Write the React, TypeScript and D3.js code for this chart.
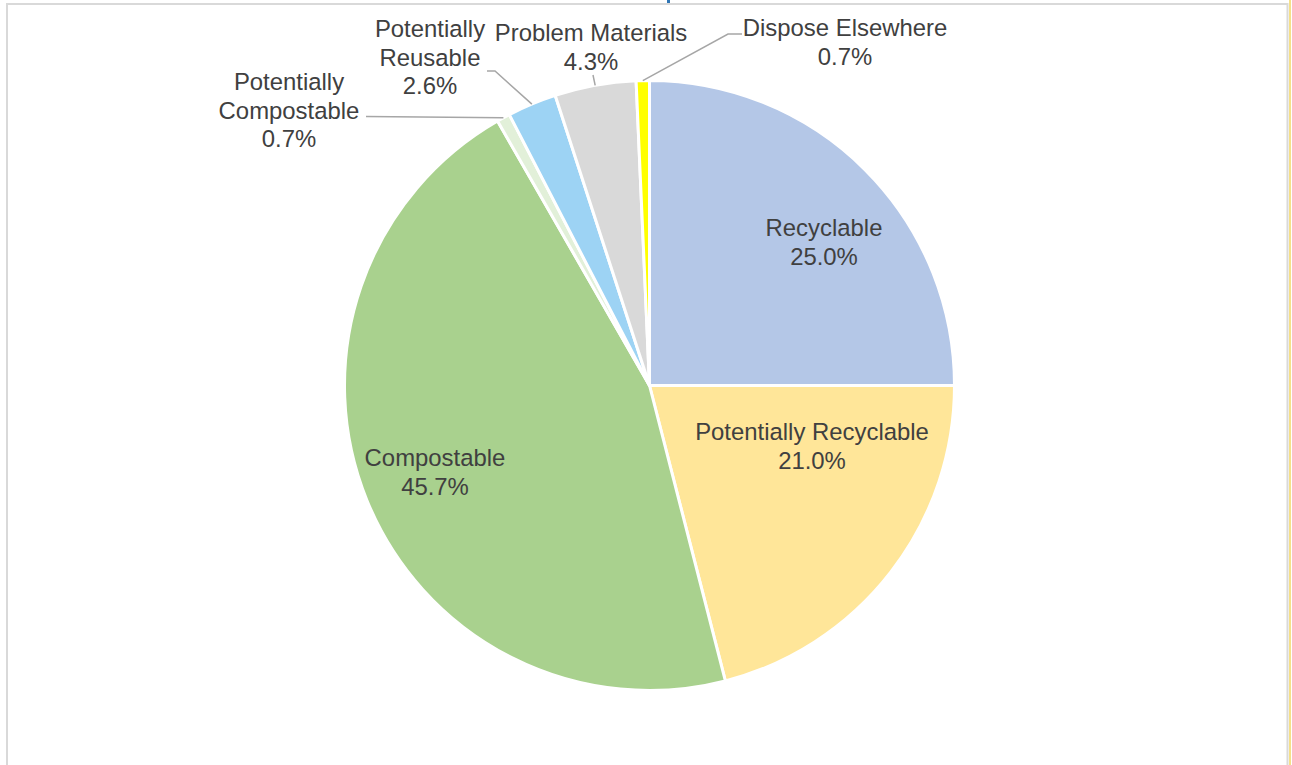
import React from "react";
import * as d3 from "d3";

const categories = [
  "Recyclable",
  "Potentially Recyclable",
  "Compostable",
  "Potentially Compostable",
  "Potentially Reusable",
  "Problem Materials",
  "Dispose Elsewhere",
];
const values = [25.0, 21.0, 45.7, 0.7, 2.6, 4.3, 0.7];
const colors = ["#b4c7e7", "#ffe699", "#a9d18e", "#e2f0d9", "#9dd3f4", "#d9d9d9", "#ffff00"];
const labelLines = [
  ["Recyclable"],
  ["Potentially Recyclable"],
  ["Compostable"],
  ["Potentially", "Compostable"],
  ["Potentially", "Reusable"],
  ["Problem Materials"],
  ["Dispose Elsewhere"],
];

// label layout: x center, first baseline, leader elbow points (null = inside label)
const labelLayout: { x: number; y: number; leader: [number, number][] | null }[] = [
  { x: 824, y: 236, leader: null },
  { x: 812, y: 440, leader: null },
  { x: 435, y: 466, leader: null },
  { x: 289, y: 90, leader: [[366, 116.5]] },
  { x: 430, y: 37, leader: [[487, 71], [495, 71]] },
  { x: 591, y: 41, leader: [[593, 75]] },
  { x: 845, y: 36, leader: [[742, 34], [728, 34]] },
];

const W = 1292;
const H = 765;
const cx = 649.5;
const cy = 385.5;
const R = 305;
const fontSize = 23.9;
const lineH = 28.5;

export default function App() {
  const data = categories.map((c, i) => ({ c, v: values[i], i }));
  const pie = d3.pie<any>().sort(null).value((d) => d.v).startAngle(0).endAngle(2 * Math.PI);
  const arcs = pie(data);
  const arc = d3.arc<any>().innerRadius(0).outerRadius(R);

  return (
    <svg
      width={W}
      height={H}
      style={{ position: "absolute", left: 0, top: 0, background: "#fff" }}
      fontFamily="'Liberation Sans', Arial, sans-serif"
    >
      <rect x={0} y={0} width={W} height={H} fill="#fff" />
      {/* chart frame */}
      <line x1={7} y1={3} x2={7} y2={H} stroke="#d9d9d9" strokeWidth={2} />
      <line x1={6} y1={4} x2={1288} y2={4} stroke="#d9d9d9" strokeWidth={2} />
      <line x1={1287.5} y1={3} x2={1287.5} y2={H} stroke="#d9d9d9" strokeWidth={2} />
      <line x1={1290} y1={0} x2={1290} y2={H} stroke="#f5e08a" strokeWidth={2} />
      <rect x={667} y={0} width={3} height={3} fill="#2f75b5" />
      <g transform={`translate(${cx},${cy})`}>
        {arcs.map((a, i) => (
          <path key={i} d={arc(a) as string} fill={colors[i]} stroke="#fff" strokeWidth={3} strokeLinejoin="round" />
        ))}
      </g>
      {arcs.map((a, i) => {
        const lay = labelLayout[i];
        if (!lay.leader) return null;
        const mid = (a.startAngle + a.endAngle) / 2;
        const px = cx + R * Math.sin(mid);
        const py = cy - R * Math.cos(mid);
        const pts: [number, number][] = [...lay.leader, [px, py]];
        return (
          <path
            key={"l" + i}
            d={d3.line()(pts) as string}
            fill="none"
            stroke="#a6a6a6"
            strokeWidth={1.5}
          />
        );
      })}
      {arcs.map((a, i) => {
        const lay = labelLayout[i];
        const lines = [...labelLines[i], values[i].toFixed(1) + "%"];
        return (
          <text
            key={"t" + i}
            x={lay.x}
            y={lay.y}
            textAnchor="middle"
            fontSize={fontSize}
            fill="#404040"
          >
            {lines.map((t, k) => (
              <tspan key={k} x={lay.x} y={lay.y + k * lineH}>
                {t}
              </tspan>
            ))}
          </text>
        );
      })}
    </svg>
  );
}
